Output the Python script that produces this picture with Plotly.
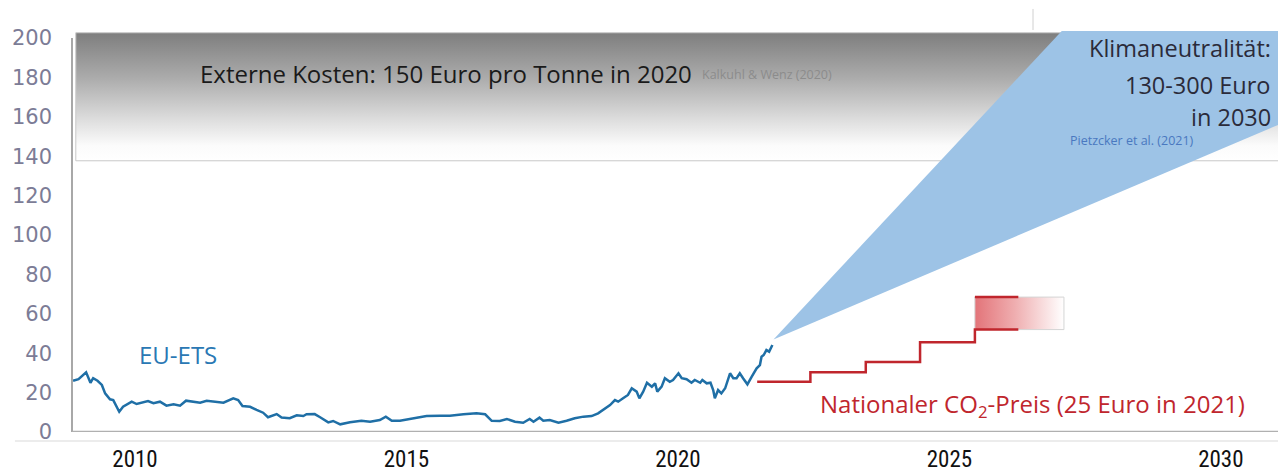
import plotly.graph_objects as go

# ---------------- data ----------------
ets_year = [2008.86, 2008.96, 2009.10, 2009.18, 2009.23, 2009.31, 2009.39, 2009.45, 2009.54, 2009.60,
            2009.71, 2009.78, 2009.94, 2010.03, 2010.24, 2010.34, 2010.46, 2010.58, 2010.71, 2010.83,
            2010.94, 2011.07, 2011.20, 2011.32, 2011.44, 2011.63, 2011.81, 2011.90, 2011.98, 2012.12,
            2012.24, 2012.36, 2012.45, 2012.61, 2012.70, 2012.85, 2012.98, 2013.10, 2013.16, 2013.31,
            2013.41, 2013.56, 2013.65, 2013.78, 2013.96, 2014.17, 2014.33, 2014.51, 2014.62, 2014.73,
            2014.88, 2015.13, 2015.37, 2015.62, 2015.80, 2016.05, 2016.29, 2016.45, 2016.57, 2016.72,
            2016.85, 2017.00, 2017.15, 2017.27, 2017.34, 2017.45, 2017.52, 2017.64, 2017.80, 2017.95,
            2018.10, 2018.26, 2018.41, 2018.53, 2018.66, 2018.75, 2018.84, 2018.90, 2018.99, 2019.08,
            2019.15, 2019.24, 2019.29, 2019.36, 2019.43, 2019.52, 2019.58, 2019.62, 2019.70, 2019.76,
            2019.85, 2019.91, 2020.01, 2020.07, 2020.16, 2020.25, 2020.31, 2020.41, 2020.45, 2020.53,
            2020.60, 2020.65, 2020.68, 2020.74, 2020.80, 2020.87, 2020.96, 2021.02, 2021.08, 2021.14,
            2021.20, 2021.28, 2021.36, 2021.45, 2021.51, 2021.54, 2021.58, 2021.63, 2021.68, 2021.74]
ets_price = [26.0, 26.8, 30.3, 25.0, 27.3, 26.0, 23.9, 19.6, 16.6, 16.2,
             10.3, 12.8, 15.4, 14.2, 15.7, 14.6, 15.4, 13.4, 14.1, 13.4,
             15.9, 15.4, 14.9, 15.9, 15.4, 14.9, 17.1, 16.2, 13.2, 12.8,
             11.2, 9.8, 7.5, 9.1, 7.3, 7.0, 8.5, 8.1, 9.0, 9.1,
             7.5, 4.9, 5.6, 3.9, 4.9, 5.7, 5.2, 6.1, 7.8, 5.7,
             5.7, 7.0, 8.1, 8.3, 8.3, 9.0, 9.5, 9.0, 5.7, 5.6,
             6.6, 5.2, 4.7, 6.6, 5.2, 7.3, 5.7, 6.1, 4.7, 5.7,
             7.0, 7.8, 8.1, 9.5, 12.0, 13.7, 16.2, 15.4, 17.1, 18.8,
             22.2, 20.5, 17.1, 20.5, 25.0, 23.0, 24.7, 20.5, 23.0, 27.3,
             25.5, 26.4, 29.8, 27.3, 26.8, 25.0, 26.4, 25.0, 26.4, 24.7,
             25.0, 21.3, 17.1, 21.3, 19.6, 22.2, 29.8, 27.3, 27.3, 29.8,
             27.3, 24.2, 28.1, 32.3, 34.0, 38.2, 39.1, 41.6, 40.8, 44.2]

# national CO2 price steps
nat_year = [2021.46, 2022.44, 2023.46, 2024.46, 2025.47, 2026.27]
nat_price = [25.5, 30.3, 35.6, 45.6, 52.0, 52.0]
corridor_year = [2025.47, 2026.27]
corridor_top = [68.5, 68.5]
corridor_box_year = [2025.47, 2027.11]
corridor_box_price = [52.0, 68.5]

# climate neutrality cone (apex, upper edge, lower edge)
cone_year = [2021.76, 2032.0, 2032.0]
cone_price = [47.0, 349.0, 167.0]

# external cost band
band_year = [2008.91, 2032.0]
band_price = [137.7, 202.7]

x_ticks = [2010, 2015, 2020, 2025, 2030]
x_labels = ["2010", "2015", "2020", "2025", "2030"]
y_ticks = [0, 20, 40, 60, 80, 100, 120, 140, 160, 180, 200]
y_labels = ["0", "20", "40", "60", "80", "100", "120", "140", "160", "180", "200"]

BLUE = "#1f6fa6"
RED = "#c0262d"
CONE = "#9dc3e6"
TXT = "Open Sans"

fig = go.Figure()

# gray gradient band
fig.add_trace(go.Scatter(
    x=[band_year[0], band_year[1], band_year[1], band_year[0], band_year[0]],
    y=[band_price[0], band_price[0], band_price[1], band_price[1], band_price[0]],
    mode="lines", fill="toself",
    line=dict(color="#c8c8c8", width=1),
    fillgradient=dict(type="vertical",
                      colorscale=[[0, "#ffffff"], [0.12, "#fbfbfb"], [0.33, "#dcdcdc"],
                                  [0.65, "#ababab"], [1, "#7e7e7e"]]),
    hoverinfo="skip", showlegend=False))

# blue cone
fig.add_trace(go.Scatter(
    x=cone_year + [cone_year[0]], y=cone_price + [cone_price[0]],
    mode="lines", fill="toself", fillcolor=CONE,
    line=dict(color=CONE, width=0), hoverinfo="skip", showlegend=False))

# EU-ETS line
fig.add_trace(go.Scatter(x=ets_year, y=ets_price, mode="lines",
                         line=dict(color=BLUE, width=2.5), showlegend=False))

# red corridor gradient box
fig.add_trace(go.Scatter(
    x=[corridor_box_year[0], corridor_box_year[1], corridor_box_year[1], corridor_box_year[0], corridor_box_year[0]],
    y=[corridor_box_price[0], corridor_box_price[0], corridor_box_price[1], corridor_box_price[1], corridor_box_price[0]],
    mode="lines", fill="toself",
    line=dict(color="#d4d4d4", width=1),
    fillgradient=dict(type="horizontal",
                      colorscale=[[0, "#e37479"], [0.45, "#efaeb0"], [1, "#ffffff"]]),
    hoverinfo="skip", showlegend=False))

# national price steps
fig.add_trace(go.Scatter(x=nat_year, y=nat_price, mode="lines", line_shape="hv",
                         line=dict(color=RED, width=2.5), showlegend=False))
fig.add_trace(go.Scatter(x=corridor_year, y=corridor_top, mode="lines",
                         line=dict(color=RED, width=2.5), showlegend=False))

# axis lines as shapes
fig.add_shape(type="line", xref="paper", yref="y", x0=0, x1=0, y0=0, y1=200,
              line=dict(color="#a8a8a8", width=2))
fig.add_shape(type="line", xref="paper", yref="y", x0=0, x1=1, y0=0, y1=0,
              line=dict(color="#b0b0b0", width=2.5))
fig.add_shape(type="line", xref="paper", yref="paper", x0=-0.047, x1=1, y0=-0.0224, y1=-0.0224,
              line=dict(color="#e6e6e6", width=1.5))
fig.add_shape(type="line", xref="paper", yref="paper", x0=0.7916, x1=0.7916, y0=1.0025, y1=1.055,
              line=dict(color="#d0d0d0", width=1))

KLIMA = dict(family=TXT, size=23.5, color="#2b2b3a")
ann = [
    dict(text="Externe Kosten: 150 Euro pro Tonne in 2020", x=2011.16, y=182.2, xanchor="left",
         font=dict(family=TXT, size=24, color="#1a1a1a")),
    dict(text="Kalkuhl & Wenz (2020)", x=2020.41, y=181.7, xanchor="left",
         font=dict(family=TXT, size=12.5, color="#8c8c8c")),
    dict(text="Klimaneutralität:", x=2030.96, y=194.9, xanchor="right", font=KLIMA),
    dict(text="130-300 Euro", x=2030.96, y=176.1, xanchor="right", font=KLIMA),
    dict(text="in 2030", x=2030.96, y=159.9, xanchor="right", font=KLIMA),
    dict(text="Pietzcker et al. (2021)", x=2027.18, y=148.2, xanchor="left",
         font=dict(family=TXT, size=12.5, color="#4a78c0")),
    dict(text="EU-ETS", x=2010.04, y=39.1, xanchor="left",
         font=dict(family=TXT, size=24, color="#2a78b4")),
    dict(text="Nationaler CO<sub>2</sub>-Preis (25 Euro in 2021)", x=2022.58, y=13.7, xanchor="left",
         font=dict(family=TXT, size=24, color=RED)),
]
for a in ann:
    fig.add_annotation(xref="x", yref="y", yanchor="middle", showarrow=False, **a)

# the page body has an 8px margin, so the figure is shifted by 8px; compensate
fig.update_layout(
    width=1278, height=464,
    margin=dict(l=64, r=0, t=23, b=40, autoexpand=False),
    paper_bgcolor="white", plot_bgcolor="white",
    xaxis=dict(range=[2008.84, 2031.2], tickvals=x_ticks, ticktext=x_labels,
               showgrid=False, zeroline=False, showline=False, ticks="",
               ticklabelstandoff=11, automargin=False,
               tickfont=dict(family="Liberation Sans Narrow, Arial Narrow, Roboto Condensed, sans-serif",
                             size=23, color="#111111")),
    yaxis=dict(range=[0, 203.6], tickvals=y_ticks, ticktext=y_labels,
               showgrid=False, zeroline=False, showline=False, ticks="",
               ticklabelstandoff=19, automargin=False,
               tickfont=dict(family="DejaVu Sans", size=21, color="#7c7c96")),
)

fig.write_html("out.html")
